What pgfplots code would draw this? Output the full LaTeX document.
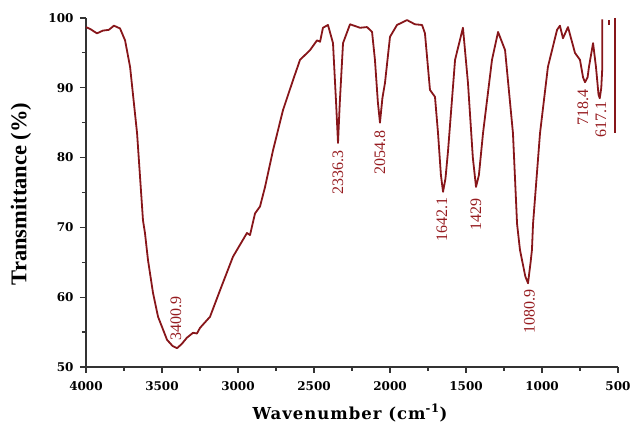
\documentclass[border=0pt]{standalone}
\usepackage{pgfplots}
\pgfplotsset{compat=1.18}
\usepackage{fontspec}
\setmainfont{Liberation Serif}
\newfontfamily\tickfont{DejaVu Serif}
\newfontfamily\labfont{DejaVu Serif}[LetterSpace=6]
\newfontfamily\ylabfont{Liberation Serif}
\definecolor{spec}{RGB}{135,22,26}
\definecolor{peak}{RGB}{150,28,32}
\begin{document}
\begin{tikzpicture}
\begin{axis}[
    at={(0,0)}, anchor=south west,
    width=532pt, height=349pt, scale only axis,
    xmin=500, xmax=4000, ymin=50, ymax=100,
    x dir=reverse,
    axis lines*=left,
    axis line style={line width=1.3pt, black!80},
    tick align=outside,
    xtick={500,1000,...,4000}, ytick={50,60,...,100},
    minor xtick={750,1250,...,3750}, minor ytick={55,65,...,95},
    major tick length=6pt, minor tick length=4pt,
    every tick/.style={line width=1.2pt, black!80},
    ticklabel style={font=\tickfont\bfseries\fontsize{12}{12}\selectfont},
    xticklabel style={yshift=-5pt},
    yticklabel style={xshift=-3pt},
    /pgf/number format/assume math mode=true,
    /pgf/number format/1000 sep={},
    clip=false,
]
\addplot[spec, line width=1.8pt, line join=round] coordinates {
(4000,98.7) (3970,98.4) (3928,97.8) (3888,98.2) (3850,98.3) (3816,98.9)
(3776,98.5) (3743,96.8) (3710,93.0) (3664,83.5) (3625,71.0) (3612,69.2)
(3592,65.3) (3559,60.6) (3526,57.2) (3467,53.9) (3430,53.0) (3401,52.7)
(3370,53.3) (3336,54.2) (3296,54.9) (3270,54.8) (3250,55.6) (3184,57.2)
(3118,61.0) (3033,65.8) (2941,69.2) (2921,68.9) (2888,72.0) (2855,73.0)
(2822,75.8) (2770,81.0) (2704,86.8) (2638,91.1) (2592,94.0) (2526,95.4)
(2480,96.8) (2460,96.6) (2441,98.6) (2408,99.0) (2375,96.4) (2355,88.0)
(2342,82.1) (2330,88.0) (2309,96.4) (2263,99.1) (2197,98.6) (2151,98.7)
(2118,98.0) (2099,94.0) (2080,88.0) (2066,85.0) (2050,88.5) (2033,90.7)
(2000,97.3) (1954,99.0) (1888,99.7) (1836,99.1) (1789,99.0) (1770,97.8)
(1737,89.7) (1704,88.7) (1684,83.5) (1665,77.5) (1651,75.1) (1635,77.0)
(1618,81.0) (1572,94.0) (1520,98.6) (1487,90.7) (1455,80.0) (1434,75.8)
(1415,77.5) (1388,83.5) (1329,94.0) (1289,98.0) (1243,95.4) (1191,83.5)
(1164,70.5) (1145,66.8) (1110,63.0) (1092,62.0) (1075,65.0) (1066,66.8)
(1059,70.5) (1013,83.5) (961,93.0) (901,98.3) (882,98.9) (862,97.1)
(829,98.7) (783,95.0) (750,94.0) (730,91.5) (717,90.8) (700,91.5)
(691,93.0) (664,96.4) (645,93.0) (628,89.0) (620,88.5) (610,90.0)
(603,93.0) (603,99.8)
};
\addplot[spec, line width=1.8pt] coordinates {(559,99.7) (559,99.0)};
\addplot[spec, line width=1.8pt] coordinates {(520,100) (520,83.5)};
\begin{scope}[every node/.style={rotate=90, text=peak, font=\fontsize{16}{16}\selectfont, inner sep=0pt}]
\node at (axis cs:3408,57.0) {3400.9};
\node at (axis cs:2342,77.9) {2336.3};
\node at (axis cs:2066,80.8) {2054.8};
\node at (axis cs:1658,71.1) {1642.1};
\node at (axis cs:1434,71.8) {1429};
\node at (axis cs:1082,57.95) {1080.9};
\node at (axis cs:730,87.2) {718.4};
\node at (axis cs:612,85.4) {617.1};
\end{scope}
\end{axis}
\node[anchor=base, font=\labfont\bfseries\fontsize{16.5}{16.5}\selectfont] at (264pt,-52pt) {Wavenumber (cm\textsuperscript{-1})};
\node[rotate=90, font=\ylabfont\bfseries\fontsize{22.5}{22.5}\selectfont] at (-65pt,173pt) {Transmittance (\%)};
\pgfresetboundingbox
\path[use as bounding box] (-86pt,-58pt) rectangle (545pt,367pt);
\end{tikzpicture}
\end{document}
